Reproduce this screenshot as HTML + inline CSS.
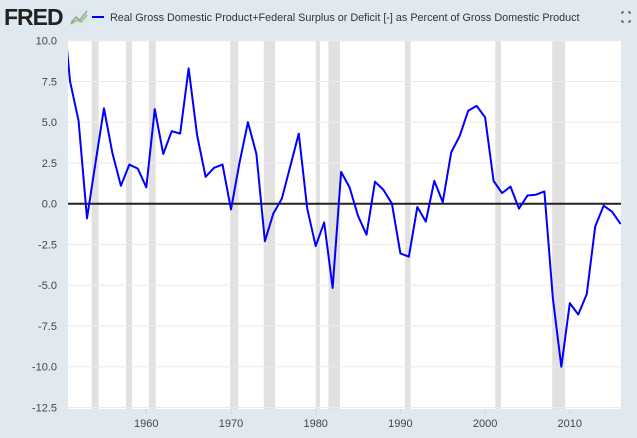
<!DOCTYPE html>
<html><head><meta charset="utf-8"><style>
body{margin:0;background:#e1e9f0;font-family:"Liberation Sans",sans-serif;}
svg{display:block}
</style></head><body>
<svg width="637" height="438" xmlns="http://www.w3.org/2000/svg">
<rect width="637" height="438" fill="#e1e9f0"/>
<text x="4" y="25" font-size="23" font-weight="bold" fill="#222" letter-spacing="-1">FRED</text>
<g><rect x="70" y="9" width="18" height="16" fill="#dfe6ec"/><polyline points="71,23 76,17 80,20 87,11" fill="none" stroke="#8aa" stroke-width="1.5"/><polyline points="71,24 77,20 81,22 87,15" fill="none" stroke="#9b6" stroke-width="1.5"/></g>
<line x1="92" y1="17" x2="104" y2="17" stroke="#0000ff" stroke-width="2"/>
<text x="110" y="21" font-size="10.8" fill="#333">Real Gross Domestic Product+Federal Surplus or Deficit [-] as Percent of Gross Domestic Product</text>
<g stroke="#333" stroke-width="1" fill="none"><path d="M622 14v-2h2M628 12h2v2M630 20v2h-2M624 22h-2v-2"/></g>
<defs><clipPath id="pc"><rect x="68" y="41" width="553" height="368"/></clipPath></defs>
<rect x="68" y="41" width="553" height="368" fill="#fff"/>
<g id="rec"></g><g id="grid"></g><g id="axes"></g>
<g id="series" clip-path="url(#pc)"></g>
</svg>
<script>
const years=[1950,1951,1952,1953,1954,1955,1956,1957,1958,1959,1960,1961,1962,1963,1964,1965,1966,1967,1968,1969,1970,1971,1972,1973,1974,1975,1976,1977,1978,1979,1980,1981,1982,1983,1984,1985,1986,1987,1988,1989,1990,1991,1992,1993,1994,1995,1996,1997,1998,1999,2000,2001,2002,2003,2004,2005,2006,2007,2008,2009,2010,2011,2012,2013,2014,2015,2016];
const values=[13.0,7.5,5.1,-0.9,2.5,5.85,3.1,1.1,2.4,2.15,1.0,5.8,3.05,4.45,4.3,8.3,4.2,1.65,2.2,2.4,-0.35,2.5,5.0,3.05,-2.3,-0.6,0.3,2.3,4.3,-0.3,-2.6,-1.15,-5.17,1.95,1.0,-0.75,-1.9,1.35,0.85,0.0,-3.05,-3.25,-0.2,-1.1,1.4,0.1,3.15,4.15,5.7,6.0,5.3,1.4,0.65,1.05,-0.3,0.5,0.55,0.75,-5.8,-10.0,-6.1,-6.8,-5.55,-1.4,-0.12,-0.5,-1.25];
const yTicks=[10.0,7.5,5.0,2.5,0.0,-2.5,-5.0,-7.5,-10.0,-12.5];
const xTicks=[1960,1970,1980,1990,2000,2010];
const recStart=[1953.55,1957.62,1960.3,1969.9,1973.87,1980.0,1981.5,1990.55,2001.2,2007.92];
const recEnd=[1954.37,1958.3,1961.1,1970.87,1975.2,1980.5,1982.87,1991.2,2001.87,2009.45];
const NS="http://www.w3.org/2000/svg";
const X=y=>146.3+(y-1960)*8.47;
const Y=v=>203.7-v*16.3;
function mk(t,a,p){const e=document.createElementNS(NS,t);for(const k in a)e.setAttribute(k,a[k]);p.appendChild(e);return e;}
const rec=document.getElementById('rec');
recStart.forEach((s,i)=>{const x1=Math.max(68,X(s)),x2=X(recEnd[i]);
const r=mk('rect',{x:x1,y:41,width:x2-x1,height:368,fill:'#e1e1e1'},rec);

});
const grid=document.getElementById('grid'),axes=document.getElementById('axes');
yTicks.forEach(v=>{if(v!==0){const l=mk('line',{x1:68,x2:621,y1:Y(v),y2:Y(v),stroke:'#ebebeb','stroke-width':1},grid);

}
const t=mk('text',{x:57,y:Y(v)+4,'font-size':11,fill:'#444','text-anchor':'end'},axes);t.textContent=v.toFixed(1);

});
xTicks.forEach(y=>{const l=mk('line',{x1:X(y),x2:X(y),y1:409,y2:414,stroke:'#ccd6e0'},axes);


const t=mk('text',{x:X(y),y:427,'font-size':11,fill:'#444','text-anchor':'middle'},axes);t.textContent=y;

});
const ser=document.getElementById('series');
const z=mk('line',{x1:68,x2:621,y1:Y(0),y2:Y(0),stroke:'#222','stroke-width':2},ser);


const p=mk('polyline',{points:years.map((y,i)=>X(y)+','+Y(values[i])).join(' '),fill:'none',stroke:'#0000ff','stroke-width':2,'stroke-linejoin':'round'},ser);


</script>
</body></html>
